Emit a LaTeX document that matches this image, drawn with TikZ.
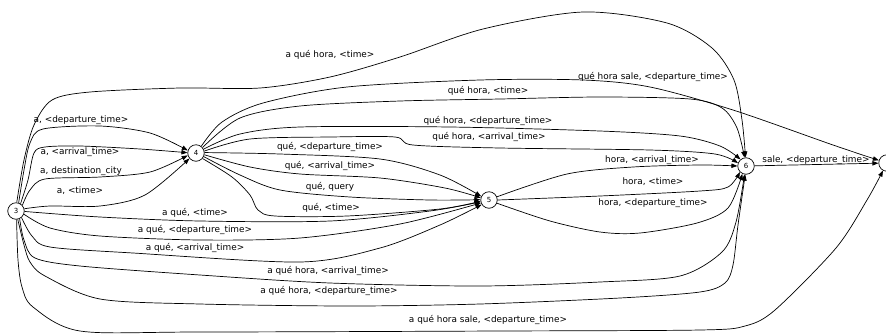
\documentclass[tikz,border=0pt]{standalone}
\usepackage{fontspec}
\setmainfont{DejaVu Sans}
\usetikzlibrary{arrows.meta}

\tikzset{
  st/.style={circle, draw, line width=0.7pt, minimum size=16.5pt, inner sep=0pt,
    font=\fontsize{7}{8}\selectfont},
  lbl/.style={font=\fontsize{8.9}{10}\selectfont, inner sep=0pt},
  trans/.style={line width=0.7pt, -{Triangle[length=6pt,width=4.4pt]}},
}

\begin{document}
\begin{tikzpicture}[x=1pt,y=-1pt]
  \useasboundingbox (0,0) rectangle (886,333);
  \clip (0,0) rectangle (886,333);
  % states of the transducer
  \node[st] (n3) at (16,211) {3};
  \node[st] (n4) at (196,153) {4};
  \node[st] (n5) at (489,200) {5};
  \node[st] (n6) at (746,166) {6};
  \node[st] (n7) at (887,163) {};

  % 3 -> 4
  \draw[trans] plot[smooth] coordinates {(n3.72) (24,170) (30,143) (43,129) (100,126) (150,133) (n4.163)};
  \draw[trans] plot[smooth] coordinates {(n3.58) (28,180) (34,153) (45,147) (80,146) (140,149) (n4.178)};
  \draw[trans] plot[smooth] coordinates {(n3.42) (30,190) (45,179) (100,177) (150,172) (n4.196)};
  \draw[trans] plot[smooth] coordinates {(n3.15) (50,206) (100,206) (145,195) (n4.220)};
  % 3 -> 5
  \draw[trans] plot[smooth] coordinates {(n3.-3) (100,217) (200,221) (330,221) (430,211) (n5.192)};
  \draw[trans] plot[smooth] coordinates {(n3.-22) (50,228) (100,236) (200,240) (300,238) (400,224) (n5.200)};
  \draw[trans] plot[smooth] coordinates {(n3.-50) (32,236) (50,247) (133,253) (300,262) (380,248) (440,225) (n5.212)};
  % 3 -> 6
  \draw[trans] plot[smooth] coordinates {(n3.85) (24,160) (34,125) (52,100) (90,92) (180,88) (260,88) (330,77) (400,57) (483,29) (583,12) (667,23) (712,48) (734,80) (742,120) (n6.93)};
  \draw[trans] plot[smooth] coordinates {(n3.-65) (24,240) (35,258) (80,266) (200,275) (330,283) (480,286) (600,282) (680,276) (722,252) (736,222) (n6.-100)};
  \draw[trans] plot[smooth] coordinates {(n3.-78) (24,245) (30,262) (45,276) (100,299) (200,304) (350,306) (480,304) (620,298) (700,292) (725,283) (733,265) (738,225) (n6.-95)};
  % 3 -> 7
  \draw[trans] plot[smooth] coordinates {(n3.-86) (18,260) (22,287) (33,307) (80,331) (200,332) (500,331) (700,330) (745,326) (775,310) (836,248) (867,200) (n7.-118)};
  % 4 -> 5
  \draw[trans] plot[smooth] coordinates {(n4.3) (280,154) (380,159) (440,175) (n5.155)};
  \draw[trans] plot[smooth] coordinates {(n4.-12) (250,167) (300,174) (380,178) (445,188) (n5.165)};
  \draw[trans] plot[smooth] coordinates {(n4.-25) (240,175) (280,190) (350,197) (430,200) (n5.178)};
  \draw[trans] plot[smooth] coordinates {(n4.-40) (232,177) (250,195) (258,210) (275,216) (347,216) (440,209) (n5.188)};
  % 4 -> 6
  \draw[trans] plot[smooth] coordinates {(n4.40) (240,118) (300,106) (400,101) (500,99) (600,97) (690,99) (722,108) (737,128) (n6.100)};
  \draw[trans] plot[smooth] coordinates {(n4.27) (240,134) (300,127) (450,127) (600,131) (680,136) (720,146) (n6.130)};
  \draw[trans] plot[smooth] coordinates {(n4.13) (250,139) (330,137) (395,137) (413,145) (500,148) (650,150) (715,154) (n6.160)};
  % 4 -> 7
  \draw[trans] plot[smooth] coordinates {(n4.52) (222,122) (263,103) (347,87) (480,80) (583,80) (650,87) (733,110) (833,145) (n7.162)};
  % 5 -> 6
  \draw[trans] plot[smooth] coordinates {(n5.22) (567,174) (633,167) (700,165) (n6.180)};
  \draw[trans] plot[smooth] coordinates {(n5.0) (600,196) (700,191) (728,187) (n6.-135)};
  \draw[trans] plot[smooth] coordinates {(n5.-22) (550,221) (600,232) (640,233) (697,223) (728,208) (n6.-115)};
  % 6 -> 7
  \draw[trans] (n6) -- (n7);

  % arc labels
  \foreach \nm/\px/\py/\txt in {
      lK/330/55/{a qué hora, <time>},
      lL/653/77/{qué hora sale, <departure\_time>},
      lM/488/91/{qué hora, <time>},
      lA/81/120/{a, <departure\_time>},
      lN/488/121/{qué hora, <departure\_time>},
      lO/489/137/{qué hora, <arrival\_time>},
      lP/330/147/{qué, <departure\_time>},
      lB/80/152/{a, <arrival\_time>},
      lQ/330/166/{qué, <arrival\_time>},
      lT/652/160/{hora, <arrival\_time>},
      lW/816/160/{sale, <departure\_time>},
      lC/81/171/{a, destination\_city},
      lR/330/187/{qué, query},
      lU/653/182/{hora, <time>},
      lD/80/191/{a, <time>},
      lV/653/203/{hora, <departure\_time>},
      lS/331/208/{qué, <time>},
      lE/195/213/{a qué, <time>},
      lF/195/230/{a qué, <departure\_time>},
      lG/195/248/{a qué, <arrival\_time>},
      lH/328/271/{a qué hora, <arrival\_time>},
      lI/329/291/{a qué hora, <departure\_time>},
      lJ/488/320/{a qué hora sale, <departure\_time>}}
    \node[lbl] (\nm) at (\px,\py) {\txt};
\end{tikzpicture}
\end{document}
